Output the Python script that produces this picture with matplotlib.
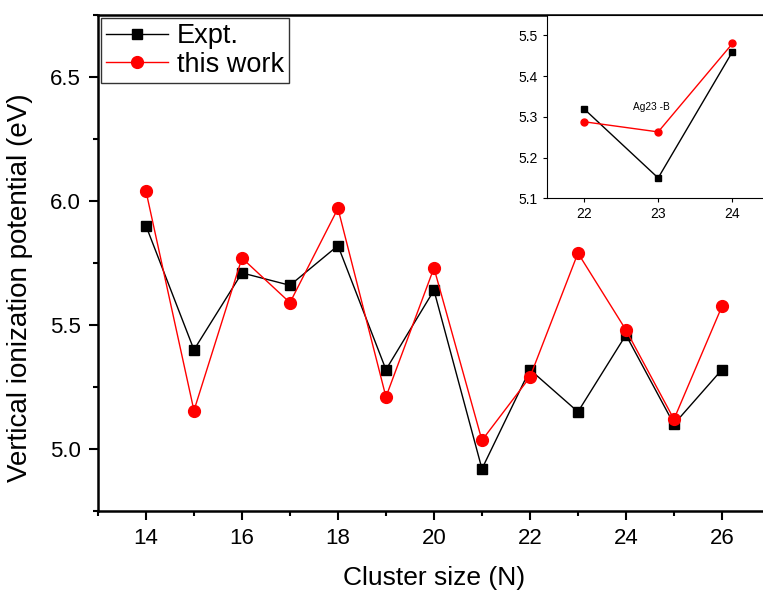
import numpy as np
import matplotlib
matplotlib.use('Agg')
import matplotlib.pyplot as plt
from matplotlib.ticker import MultipleLocator, FormatStrFormatter

plt.rcParams['font.family'] = ['Liberation Sans', 'DejaVu Sans']

# Data
cluster_size = [14, 15, 16, 17, 18, 19, 20, 21, 22, 23, 24, 25, 26]
expt = [5.90, 5.40, 5.71, 5.66, 5.82, 5.32, 5.64, 4.92, 5.32, 5.15, 5.46, 5.10, 5.32]
this_work = [6.04, 5.155, 5.77, 5.59, 5.97, 5.21, 5.73, 5.035, 5.29, 5.79, 5.48, 5.12, 5.575]

inset_size = [22, 23, 24]
inset_expt = [5.32, 5.15, 5.46]
inset_this_work = [5.288, 5.263, 5.48]

fig = plt.figure(figsize=(7.63, 5.92), dpi=100)
ax = fig.add_axes([0.1284, 0.1368, 0.8807, 0.8379])

ax.plot(cluster_size, expt, color='black', lw=1, marker='s', ms=7.5, label='Expt.')
ax.plot(cluster_size, this_work, color='red', lw=1, marker='o', ms=8.5, label='this work')

ax.set_xlim(13, 27)
ax.set_ylim(4.75, 6.75)
ax.xaxis.set_major_locator(MultipleLocator(2))
ax.xaxis.set_minor_locator(MultipleLocator(1))
ax.yaxis.set_major_locator(MultipleLocator(0.5))
ax.yaxis.set_minor_locator(MultipleLocator(0.25))
ax.yaxis.set_major_formatter(FormatStrFormatter('%.1f'))
ax.tick_params(which='major', direction='out', length=6.5, width=1.5, labelsize=16, pad=6)
ax.tick_params(which='minor', direction='out', length=3.5, width=1.5)
for s in ax.spines.values():
    s.set_linewidth(1.8)
ax.set_xlabel('Cluster size (N)', fontsize=19, labelpad=12)
ax.set_ylabel('Vertical ionization potential (eV)', fontsize=20)
ax.yaxis.set_label_coords(-0.097, 0.451)

leg = ax.legend(loc='upper left', fontsize=19.5, frameon=True, fancybox=False,
                edgecolor='black', borderaxespad=0.1, handlelength=2.3,
                handletextpad=0.3, borderpad=0.2, labelspacing=0.1)
leg.get_frame().set_linewidth(1.0)

# inset
axin = fig.add_axes([0.7165, 0.665, 0.2922, 0.3097])
axin.plot(inset_size, inset_expt, color='black', lw=1, marker='s', ms=4.5)
axin.plot(inset_size, inset_this_work, color='red', lw=1, marker='o', ms=5)
axin.set_xlim(21.5, 24.5)
axin.set_ylim(5.1, 5.55)
axin.set_xticks([22, 23, 24])
axin.set_yticks([5.1, 5.2, 5.3, 5.4, 5.5])
axin.yaxis.set_major_formatter(FormatStrFormatter('%.1f'))
axin.tick_params(direction='out', length=3, labelsize=10)
axin.text(22.91, 5.324, 'Ag23 -B', fontsize=7.3, ha='center', va='center')

fig.savefig('out.png', dpi=100)
